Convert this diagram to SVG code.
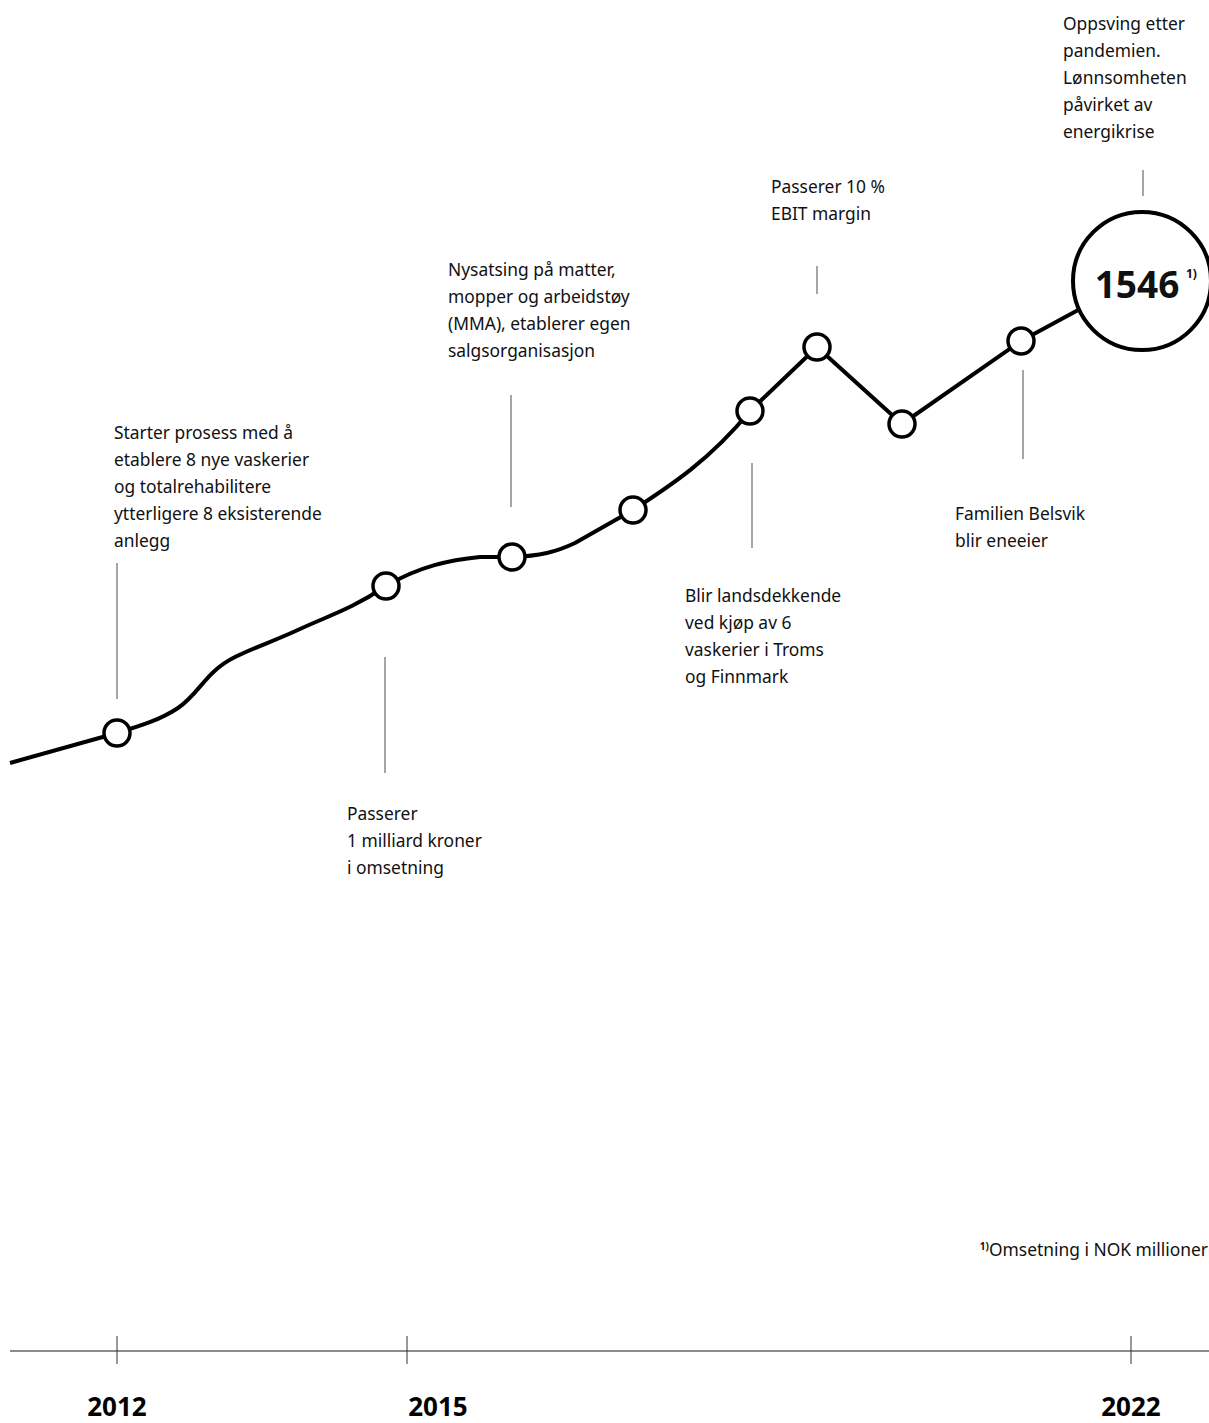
<svg xmlns="http://www.w3.org/2000/svg" width="1209" height="1423" viewBox="0 0 1209 1423">
<style>
.t{font-family:"Noto Sans","Open Sans",sans-serif;font-size:17.4px;fill:#111}
.lead{stroke:#888;stroke-width:1.5;fill:none}
.node{fill:#fff;stroke:#000;stroke-width:3.5}
.yr{font-family:"Noto Sans","Open Sans",sans-serif;font-size:26px;font-weight:bold;fill:#000;text-anchor:middle}
</style>
<rect width="1209" height="1423" fill="#fff"/>
<g id="connectors">
<path d="M10,763 L117,733 C140,726 160,720 178,708 C200,693 205,672 235,657 C260,645 272,642 300,629 C330,615 350,610 386,586 C420,566 450,560 480,557 L512,557 C540,556 556,552 575,543 L633,510 C670,486 710,460 750,411 L817,347 L902,424 L1021,341 L1080,309" fill="none" stroke="#000" stroke-width="4" stroke-linejoin="round"/>
<line class="lead" x1="117" y1="563" x2="117" y2="699"/>
<line class="lead" x1="385" y1="657" x2="385" y2="773"/>
<line class="lead" x1="511" y1="395" x2="511" y2="507"/>
<line class="lead" x1="752" y1="463" x2="752" y2="548"/>
<line class="lead" x1="817" y1="266" x2="817" y2="294"/>
<line class="lead" x1="1023" y1="370" x2="1023" y2="459"/>
<line class="lead" x1="1143" y1="170" x2="1143" y2="196"/>
</g>
<g id="n2012"><circle class="node" cx="117" cy="733" r="13"/></g>
<g id="n2015"><circle class="node" cx="386" cy="586" r="13"/></g>
<g id="n2016"><circle class="node" cx="512" cy="557" r="13"/></g>
<g id="n2017"><circle class="node" cx="633" cy="510" r="13"/></g>
<g id="n2018"><circle class="node" cx="750" cy="411" r="13"/></g>
<g id="n2019"><circle class="node" cx="817" cy="347" r="13"/></g>
<g id="n2020"><circle class="node" cx="902" cy="424" r="13"/></g>
<g id="n2021"><circle class="node" cx="1021" cy="341" r="13"/></g>
<g id="n2022">
<circle cx="1142" cy="281" r="69" fill="#fff" stroke="#000" stroke-width="4"/>
<text x="1137" y="298" font-family="Noto Sans,Open Sans,sans-serif" font-size="37" font-weight="bold" text-anchor="middle" fill="#111">1546</text>
<text x="1186" y="278" font-family="Noto Sans,Open Sans,sans-serif" font-size="12" font-weight="bold" fill="#111">1)</text>
</g>
<g id="labels">
<text class="t"><tspan x="114" y="439">Starter prosess med å</tspan><tspan x="114" y="466">etablere 8 nye vaskerier</tspan><tspan x="114" y="493">og totalrehabilitere</tspan><tspan x="114" y="520">ytterligere 8 eksisterende</tspan><tspan x="114" y="547">anlegg</tspan></text>
<text class="t"><tspan x="448" y="276">Nysatsing på matter,</tspan><tspan x="448" y="303">mopper og arbeidstøy</tspan><tspan x="448" y="330">(MMA), etablerer egen</tspan><tspan x="448" y="357">salgsorganisasjon</tspan></text>
<text class="t"><tspan x="771" y="193">Passerer 10 %</tspan><tspan x="771" y="220">EBIT margin</tspan></text>
<text class="t"><tspan x="1063" y="30">Oppsving etter</tspan><tspan x="1063" y="57">pandemien.</tspan><tspan x="1063" y="84">Lønnsomheten</tspan><tspan x="1063" y="111">påvirket av</tspan><tspan x="1063" y="138">energikrise</tspan></text>
<text class="t"><tspan x="955" y="520">Familien Belsvik</tspan><tspan x="955" y="547">blir eneeier</tspan></text>
<text class="t"><tspan x="685" y="602">Blir landsdekkende</tspan><tspan x="685" y="629">ved kjøp av 6</tspan><tspan x="685" y="656">vaskerier i Troms</tspan><tspan x="685" y="683">og Finnmark</tspan></text>
<text class="t"><tspan x="347" y="820">Passerer</tspan><tspan x="347" y="847">1 milliard kroner</tspan><tspan x="347" y="874">i omsetning</tspan></text>
<text class="t" text-anchor="end" x="1208" y="1256" font-size="17.8"><tspan font-size="10" font-weight="bold" dy="-6">1)</tspan><tspan dy="6">Omsetning i NOK millioner</tspan></text>
</g>
<g id="axis">
<line x1="10" y1="1351" x2="1209" y2="1351" stroke="#666" stroke-width="1.5"/>
<line x1="117" y1="1336" x2="117" y2="1364" stroke="#333" stroke-width="1"/>
<line x1="407" y1="1336" x2="407" y2="1364" stroke="#333" stroke-width="1"/>
<line x1="1131" y1="1336" x2="1131" y2="1364" stroke="#333" stroke-width="1"/>
<text class="yr" x="117" y="1416">2012</text>
<text class="yr" x="438" y="1416">2015</text>
<text class="yr" x="1131" y="1416">2022</text>
</g>
</svg>
